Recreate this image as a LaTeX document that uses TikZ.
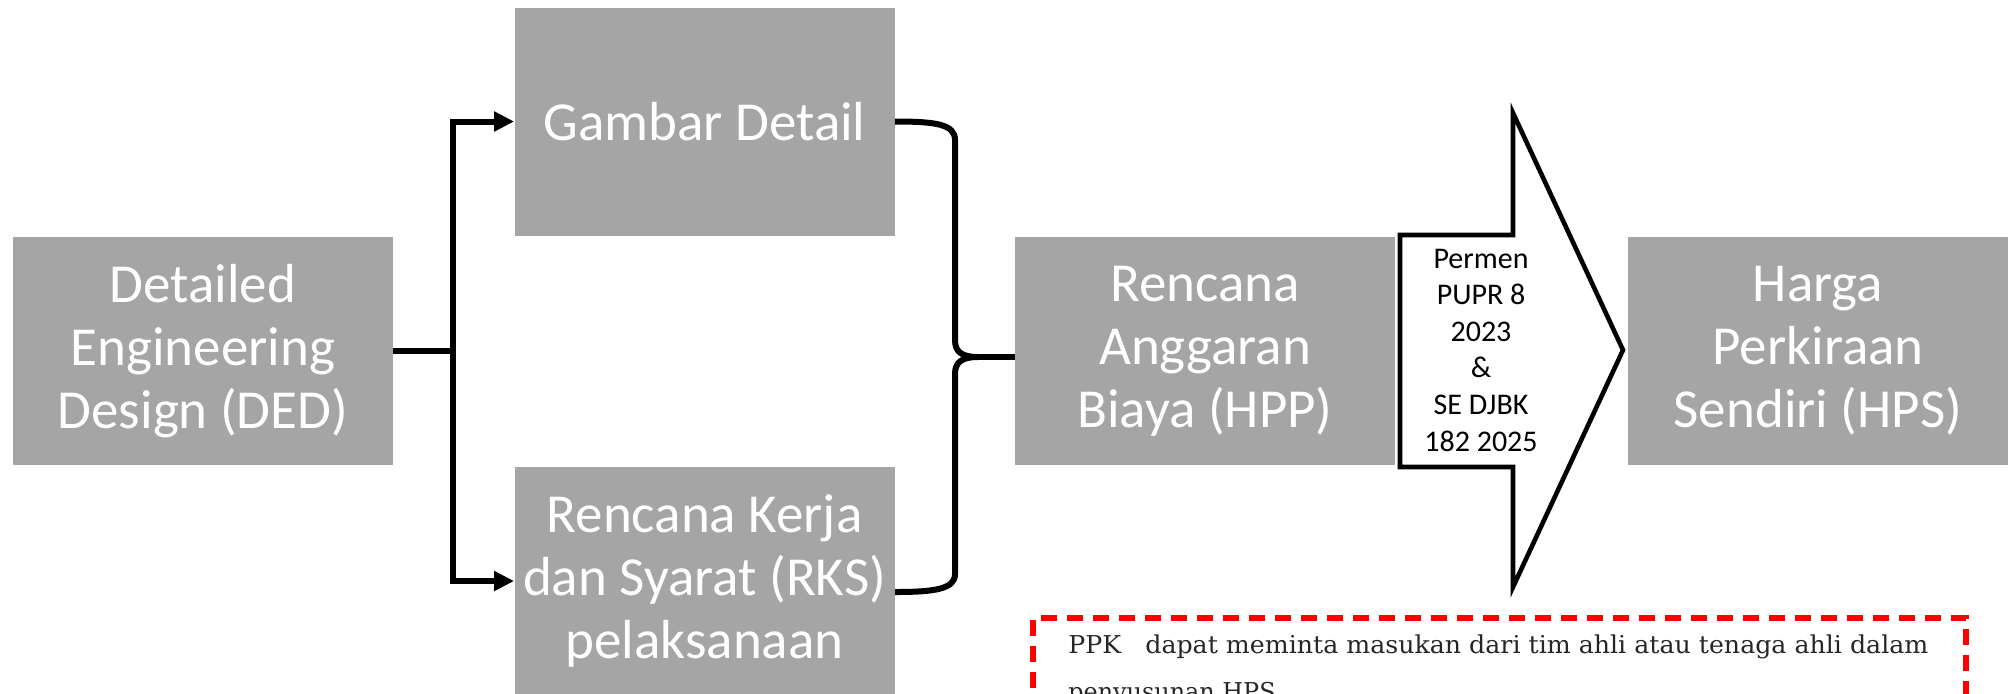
\documentclass[tikz,border=0pt]{standalone}
\usepackage{fontspec}
\usepackage{graphicx}
\newfontfamily\calfont{Carlito}
\newfontfamily\notefont{DejaVu Serif}
\usetikzlibrary{arrows.meta}
\definecolor{boxgray}{RGB}{165,165,165}
\definecolor{notered}{RGB}{255,0,0}
\tikzset{
  procbox/.style={fill=boxgray, text=white, minimum width=190pt, minimum height=114pt,
    inner sep=0pt, align=center, font=\calfont\fontsize{27.5}{31.5}\selectfont},
  conn/.style={line width=3pt, line join=miter},
  conntip/.style={conn, -{Triangle[length=10pt,width=9.5pt]}},
  bigarrow/.style={draw=black, fill=white, line width=2.3pt, line join=miter},
  arrowtext/.style={align=center, inner sep=0pt, font=\calfont\fontsize{15}{18.3}\selectfont},
  notebox/.style={draw=notered, line width=3pt, dash pattern=on 8pt off 5pt},
  notetext/.style={inner sep=0pt, font=\notefont\fontsize{12.3}{15}\selectfont, text=black!85}
}
\begin{document}
\begin{tikzpicture}[x=0.5pt,y=-0.5pt]
\useasboundingbox (0,0) rectangle (2013,693);
\clip (0,0) rectangle (2013,693);

\node[procbox] (ded) at (203,351) {Detailed\\Engineering\\Design (DED)};
\node[procbox] (gd) at (704.5,121.5) {Gambar Detail};
\node[procbox] (rks) at (704.5,581) {Rencana Kerja\\dan Syarat (RKS)\\pelaksanaan};
\node[procbox] (hpp) at (1205,351) {Rencana\\Anggaran\\Biaya (HPP)};
\node[procbox] (hps) at (1818,351) {Harga\\Perkiraan\\Sendiri (HPS)};

% block arrow
\draw[bigarrow] (1400,235) -- (1513,235) -- (1513,113) -- (1623,350) -- (1513,587)
  -- (1513,467) -- (1400,467) -- cycle;
\node[arrowtext] (perm) at (1481,350) {Permen\\PUPR 8\\2023\\\&\\SE DJBK\\182 2025};

% split connector
\draw[conn] (ded.east) -- ++(60,0) coordinate (j);
\draw[conntip] (j) |- (gd.west);
\draw[conntip] (j) |- (rks.west);

% brace
\coordinate (tip) at (978,357);
\draw[conn] (gd.east) .. controls (935,121.5) and (955,124) .. (955,140) -- (955,340)
  .. controls (955,352) and (962,357) .. (tip)
  .. controls (962,357) and (955,362) .. (955,374) -- (955,574)
  .. controls (955,589) and (935,592) .. ([yshift=-5.5pt]rks.east);
\draw[conn] (tip) -- (tip -| hpp.west);

% note box
\node[notebox, anchor=north west, minimum width=466.5pt, minimum height=80pt] (note) at (1030,614.5) {};
\node[notetext, anchor=base west] (l1) at (1068,653)
  {\resizebox{430pt}{\height}{PPK\ \ \ dapat\ meminta\ masukan\ dari\ tim\ ahli\ atau\ tenaga\ ahli\ dalam}};
\node[notetext, anchor=base west] (l2) at (1068,700)
  {\resizebox{107pt}{\height}{penyusunan HPS.}};
\end{tikzpicture}
\end{document}
